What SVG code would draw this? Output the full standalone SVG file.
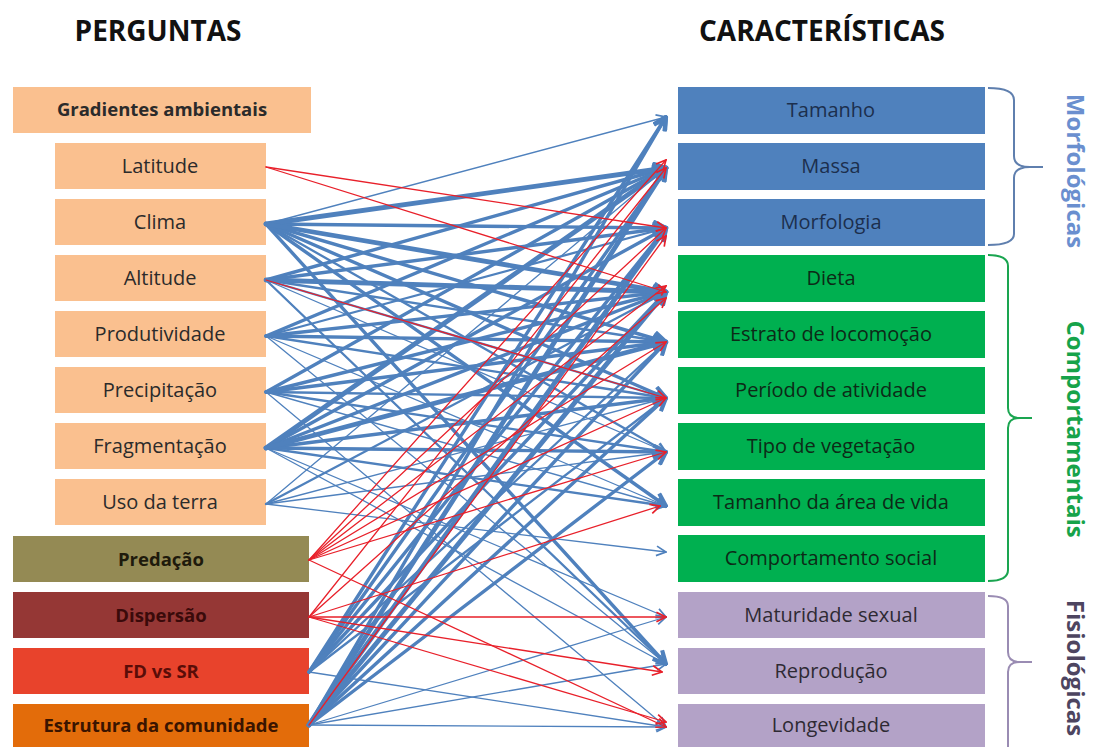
<svg xmlns="http://www.w3.org/2000/svg" width="1093" height="747" viewBox="0 0 1093 747">
<style>
text{font-family:"Open Sans","Liberation Sans",sans-serif;font-size:20px;text-anchor:middle;fill:#2b2b2b}
.title{font-size:28px;font-weight:bold;fill:#111}
.bold{font-weight:bold;font-size:18.5px}
.lft{fill:#FAC08F}
.rb{fill:#4F81BD}.rg{fill:#00B050}.rp{fill:#B3A2C7}
.tb{fill:#1c2f4d}.tg{fill:#0d2a17}.tp{fill:#2e2a33}
line{fill:none;stroke-linecap:round}
.b1{stroke:#4F81BD;stroke-width:1.3;marker-end:url(#mb)}
.b2{stroke:#4F81BD;stroke-width:2.3;marker-end:url(#mb)}
.b3{stroke:#4F81BD;stroke-width:3.4;marker-end:url(#mbt)}
.b4{stroke:#4F81BD;stroke-width:4.8;marker-end:url(#mbt)}
.r{stroke:#E8202A;stroke-width:1.3;marker-end:url(#mr)}
.brace{fill:none;stroke-width:2}
.vl{font-size:24px;font-weight:bold}
</style>
<defs>
<marker id="mb" viewBox="0 0 10 10" refX="9" refY="5" markerWidth="12" markerHeight="12" markerUnits="userSpaceOnUse" orient="auto"><path d="M1,1 L9,5 L1,9" fill="none" stroke="#4F81BD" stroke-width="1.4"/></marker>
<marker id="mbt" viewBox="0 0 10 10" refX="9" refY="5" markerWidth="16" markerHeight="16" markerUnits="userSpaceOnUse" orient="auto"><path d="M1,1 L9,5 L1,9" fill="none" stroke="#4F81BD" stroke-width="2.6"/></marker>
<marker id="mr" viewBox="0 0 10 10" refX="9" refY="5" markerWidth="12" markerHeight="12" markerUnits="userSpaceOnUse" orient="auto"><path d="M1,1 L9,5 L1,9" fill="none" stroke="#E8202A" stroke-width="1.4"/></marker>
</defs>
<rect width="1093" height="747" fill="#fff"/>
<text class="title" x="158" y="41">PERGUNTAS</text>
<text class="title" x="822" y="41">CARACTERÍSTICAS</text>

<g id="q-gradientes"><rect class="lft" x="13" y="87" width="298" height="46"/><text class="bold" x="162" y="116">Gradientes ambientais</text></g>
<g id="q-latitude"><rect class="lft" x="55" y="143" width="211" height="46"/><text x="160" y="173">Latitude</text></g>
<g id="q-clima"><rect class="lft" x="55" y="199" width="211" height="46"/><text x="160" y="229">Clima</text></g>
<g id="q-altitude"><rect class="lft" x="55" y="255" width="211" height="46"/><text x="160" y="285">Altitude</text></g>
<g id="q-produtividade"><rect class="lft" x="55" y="311" width="211" height="46"/><text x="160" y="341">Produtividade</text></g>
<g id="q-precipitacao"><rect class="lft" x="55" y="367" width="211" height="46"/><text x="160" y="397">Precipitação</text></g>
<g id="q-fragmentacao"><rect class="lft" x="55" y="423" width="211" height="46"/><text x="160" y="453">Fragmentação</text></g>
<g id="q-uso"><rect class="lft" x="55" y="479" width="211" height="46"/><text x="160" y="509">Uso da terra</text></g>
<g id="q-predacao"><rect x="13" y="536" width="296" height="46" fill="#948A54"/><text class="bold" x="161" y="566" style="fill:#1e1a0c">Predação</text></g>
<g id="q-dispersao"><rect x="13" y="592" width="296" height="46" fill="#953735"/><text class="bold" x="161" y="622" style="fill:#3a0a0a">Dispersão</text></g>
<g id="q-fdsr"><rect x="13" y="648" width="296" height="46" fill="#E8432C"/><text class="bold" x="161" y="678" style="fill:#5a0d08">FD vs SR</text></g>
<g id="q-estrutura"><rect x="13" y="704" width="296" height="43" fill="#E36C0A"/><text class="bold" x="161" y="732" style="fill:#3a1400">Estrutura da comunidade</text></g>

<g id="c-tamanho"><rect class="rb" x="678" y="87" width="307" height="47"/><text class="tb" x="831" y="117">Tamanho</text></g>
<g id="c-massa"><rect class="rb" x="678" y="143" width="307" height="47"/><text class="tb" x="831" y="173">Massa</text></g>
<g id="c-morfologia"><rect class="rb" x="678" y="199" width="307" height="47"/><text class="tb" x="831" y="229">Morfologia</text></g>
<g id="c-dieta"><rect class="rg" x="678" y="255" width="307" height="47"/><text class="tg" x="831" y="285">Dieta</text></g>
<g id="c-estrato"><rect class="rg" x="678" y="311" width="307" height="47"/><text class="tg" x="831" y="341">Estrato de locomoção</text></g>
<g id="c-periodo"><rect class="rg" x="678" y="367" width="307" height="47"/><text class="tg" x="831" y="397">Período de atividade</text></g>
<g id="c-tipo"><rect class="rg" x="678" y="423" width="307" height="47"/><text class="tg" x="831" y="453">Tipo de vegetação</text></g>
<g id="c-area"><rect class="rg" x="678" y="479" width="307" height="47"/><text class="tg" x="831" y="509">Tamanho da área de vida</text></g>
<g id="c-social"><rect class="rg" x="678" y="535" width="307" height="47"/><text class="tg" x="831" y="565">Comportamento social</text></g>
<g id="c-maturidade"><rect class="rp" x="678" y="592" width="307" height="46"/><text class="tp" x="831" y="622">Maturidade sexual</text></g>
<g id="c-reproducao"><rect class="rp" x="678" y="648" width="307" height="46"/><text class="tp" x="831" y="678">Reprodução</text></g>
<g id="c-longevidade"><rect class="rp" x="678" y="704" width="307" height="43"/><text class="tp" x="831" y="732">Longevidade</text></g>

<g id="grp-morfologicas">
<path class="brace" stroke="#5f7fae" d="M988,88 Q1014,88 1014,100 L1014,156 Q1014,167 1030,167 L1043,167 M1030,167 Q1014,167 1014,178 L1014,234 Q1014,245 988,245"/>
<text class="vl" transform="translate(1067,171) rotate(90)" style="fill:#6a8fcf">Morfológicas</text>
</g>
<g id="grp-comportamentais">
<path class="brace" stroke="#1aa550" d="M988,255 Q1008,255 1008,266 L1008,408 Q1008,418 1020,418 L1032,418 M1020,418 Q1008,418 1008,428 L1008,570 Q1008,581 988,581"/>
<text class="vl" transform="translate(1067,429) rotate(90)" style="fill:#16a34a">Comportamentais</text>
</g>
<g id="grp-fisiologicas">
<path class="brace" stroke="#9a8cb3" d="M988,596 Q1008,596 1008,606 L1008,652 Q1008,662 1020,662 L1032,662 M1020,662 Q1008,662 1008,672 L1008,747"/>
<text class="vl" transform="translate(1067,668) rotate(90)" style="fill:#4d4560">Fisiológicas</text>
</g>

<g id="connectors">
<line class="b1" x1="266" y1="224" x2="666" y2="117"/>
<line class="b1" x1="266" y1="504" x2="666" y2="552"/>
<line class="b1" x1="309" y1="725" x2="666" y2="617"/>
<line class="b1" x1="309" y1="725" x2="666" y2="727"/>
<line class="b1" x1="309" y1="672" x2="666" y2="727"/>
<line class="b1" x1="266" y1="336" x2="666" y2="664"/>
<line class="b1" x1="266" y1="392" x2="666" y2="727"/>
<line class="b1" x1="266" y1="504" x2="666" y2="168"/>
<line class="b1" x1="266" y1="504" x2="666" y2="398"/>
<line class="b1" x1="266" y1="504" x2="666" y2="452"/>
<line class="b1" x1="266" y1="336" x2="666" y2="506"/>
<line class="b1" x1="266" y1="392" x2="666" y2="506"/>
<line class="b1" x1="266" y1="280" x2="666" y2="452"/>
<line class="b1" x1="266" y1="448" x2="666" y2="617"/>
<line class="b1" x1="309" y1="725" x2="666" y2="664"/>
<line class="b1" x1="266" y1="448" x2="666" y2="664"/>
<line class="b2" x1="266" y1="280" x2="666" y2="398"/>
<line class="b2" x1="266" y1="280" x2="666" y2="342"/>
<line class="b2" x1="266" y1="336" x2="666" y2="228"/>
<line class="b2" x1="266" y1="336" x2="666" y2="398"/>
<line class="b2" x1="266" y1="392" x2="666" y2="452"/>
<line class="b2" x1="266" y1="392" x2="666" y2="398"/>
<line class="b2" x1="266" y1="504" x2="666" y2="292"/>
<line class="b2" x1="309" y1="672" x2="666" y2="342"/>
<line class="b2" x1="309" y1="672" x2="666" y2="398"/>
<line class="b2" x1="266" y1="448" x2="666" y2="506"/>
<line class="b2" x1="266" y1="280" x2="666" y2="664"/>
<line class="b2" x1="266" y1="224" x2="666" y2="452"/>
<line class="b3" x1="266" y1="224" x2="666" y2="228"/>
<line class="b3" x1="266" y1="224" x2="666" y2="342"/>
<line class="b3" x1="266" y1="224" x2="666" y2="398"/>
<line class="b3" x1="266" y1="224" x2="666" y2="506"/>
<line class="b3" x1="266" y1="224" x2="666" y2="664"/>
<line class="b3" x1="266" y1="280" x2="666" y2="168"/>
<line class="b3" x1="266" y1="280" x2="666" y2="228"/>
<line class="b3" x1="266" y1="336" x2="666" y2="292"/>
<line class="b3" x1="266" y1="336" x2="666" y2="342"/>
<line class="b3" x1="266" y1="392" x2="666" y2="168"/>
<line class="b3" x1="266" y1="392" x2="666" y2="342"/>
<line class="b3" x1="266" y1="392" x2="666" y2="292"/>
<line class="b3" x1="266" y1="336" x2="666" y2="168"/>
<line class="b3" x1="266" y1="448" x2="666" y2="228"/>
<line class="b3" x1="266" y1="448" x2="666" y2="292"/>
<line class="b3" x1="266" y1="448" x2="666" y2="398"/>
<line class="b3" x1="266" y1="448" x2="666" y2="452"/>
<line class="b3" x1="309" y1="672" x2="666" y2="117"/>
<line class="b3" x1="309" y1="672" x2="666" y2="168"/>
<line class="b3" x1="309" y1="672" x2="666" y2="228"/>
<line class="b3" x1="309" y1="672" x2="666" y2="292"/>
<line class="b3" x1="309" y1="725" x2="666" y2="117"/>
<line class="b3" x1="309" y1="725" x2="666" y2="342"/>
<line class="b3" x1="309" y1="725" x2="666" y2="398"/>
<line class="b3" x1="309" y1="725" x2="666" y2="452"/>
<line class="b4" x1="266" y1="224" x2="666" y2="168"/>
<line class="b4" x1="266" y1="224" x2="666" y2="292"/>
<line class="b4" x1="266" y1="280" x2="666" y2="292"/>
<line class="b4" x1="266" y1="448" x2="666" y2="168"/>
<line class="b4" x1="266" y1="448" x2="666" y2="342"/>
<line class="b4" x1="309" y1="725" x2="666" y2="168"/>
<line class="b4" x1="309" y1="725" x2="666" y2="228"/>
<line class="b4" x1="309" y1="725" x2="666" y2="292"/>
<line class="r" x1="266" y1="167" x2="666" y2="228"/>
<line class="r" x1="266" y1="167" x2="666" y2="292"/>
<line class="r" x1="266" y1="280" x2="666" y2="398"/>
<line class="r" x1="309" y1="560" x2="666" y2="160"/>
<line class="r" x1="309" y1="560" x2="666" y2="228"/>
<line class="r" x1="309" y1="560" x2="666" y2="286"/>
<line class="r" x1="309" y1="560" x2="666" y2="342"/>
<line class="r" x1="309" y1="560" x2="666" y2="398"/>
<line class="r" x1="309" y1="560" x2="666" y2="452"/>
<line class="r" x1="309" y1="560" x2="666" y2="727"/>
<line class="r" x1="309" y1="617" x2="666" y2="168"/>
<line class="r" x1="309" y1="617" x2="666" y2="298"/>
<line class="r" x1="309" y1="617" x2="660" y2="506"/>
<line class="r" x1="309" y1="617" x2="666" y2="617"/>
<line class="r" x1="309" y1="617" x2="662" y2="672"/>
<line class="r" x1="309" y1="617" x2="666" y2="722"/>
<line class="r" x1="309" y1="725" x2="666" y2="236"/>
</g>
</svg>
